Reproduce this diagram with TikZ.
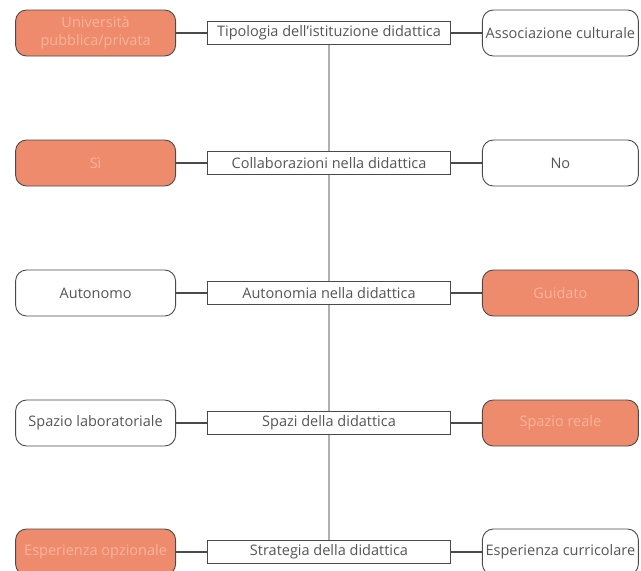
\documentclass[tikz,border=0pt]{standalone}
\usepackage{fontspec}
\setmainfont{Open Sans}
\usetikzlibrary{positioning,backgrounds}
\definecolor{ddOrange}{HTML}{EF8B6D}
\definecolor{ddOrangeTxt}{HTML}{F8B49A}
\definecolor{ddLine}{HTML}{4A4A4A}
\definecolor{ddAxis}{HTML}{B0B0B0}
\definecolor{ddText}{HTML}{555555}
\tikzset{
  ddnode/.style={
    draw=ddLine, rounded corners=11pt, minimum height=46pt, minimum width=160pt,
    font=\fontsize{14.5}{18}\selectfont, align=center, text=ddText, inner sep=1pt, line width=0.9pt
  },
  chosen/.style={ddnode, fill=ddOrange, text=ddOrangeTxt},
  other/.style={ddnode, fill=white},
  criterion/.style={
    draw=ddLine, fill=white, minimum width=243pt, minimum height=23pt,
    font=\fontsize{14.5}{18}\selectfont, text=ddText, inner sep=1pt, line width=0.9pt
  },
  link/.style={ddLine, line width=1.2pt},
  axis/.style={ddAxis, line width=1.4pt}
}
\begin{document}
\begin{tikzpicture}[x=1pt, y=-1pt, node distance=31pt]
  \useasboundingbox (0,0) rectangle (641,571);
  % criteria
  \node[criterion] (tip) at (329,33) {Tipologia dell'istituzione didattica};
  \node[criterion] (col) at (329,163) {Collaborazioni nella didattica};
  \node[criterion] (aut) at (329,293) {Autonomia nella didattica};
  \node[criterion] (spa) at (329,423) {Spazi della didattica};
  \node[criterion] (str) at (329,552) {Strategia della didattica};
  % options
  \node[chosen, left=of tip] (tipL) {Università\\pubblica/privata};
  \node[other, right=of tip, minimum width=156pt] (tipR) {Associazione culturale};
  \node[chosen, left=of col] (colL) {Sì};
  \node[other, right=of col, minimum width=156pt] (colR) {No};
  \node[other, left=of aut] (autL) {Autonomo};
  \node[chosen, right=of aut, minimum width=156pt] (autR) {Guidato};
  \node[other, left=of spa] (spaL) {Spazio laboratoriale};
  \node[chosen, right=of spa, minimum width=156pt] (spaR) {Spazio reale};
  \node[chosen, left=of str] (strL) {Esperienza opzionale};
  \node[other, right=of str, minimum width=156pt] (strR) {Esperienza curricolare};
  % links
  \foreach \c in {tip,col,aut,spa,str} {
    \draw[link] (\c L.east) -- (\c.west);
    \draw[link] (\c.east) -- (\c R.west);
  }
  \begin{scope}[on background layer]
    \draw[axis] (tip.south) -- (str.north);
  \end{scope}
\end{tikzpicture}
\end{document}
